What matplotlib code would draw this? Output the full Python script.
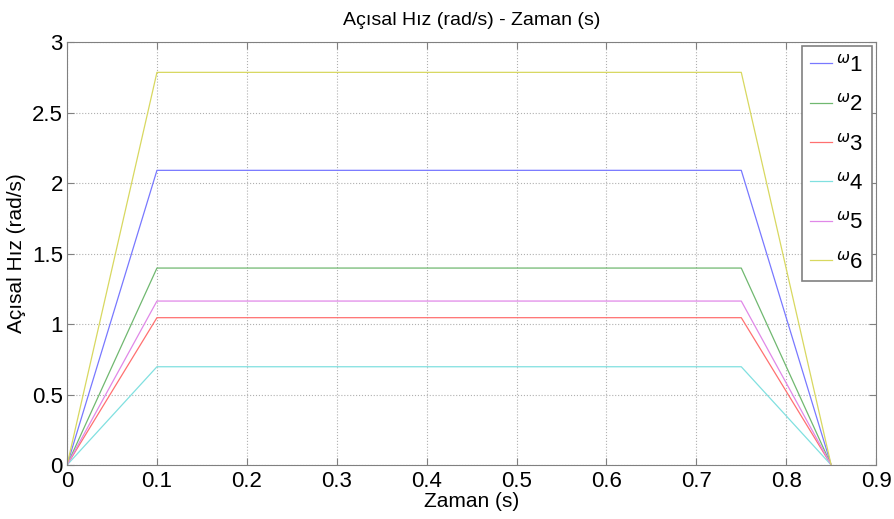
import matplotlib
matplotlib.use("Agg")
import matplotlib.pyplot as plt

plt.rcParams['font.family'] = ['Liberation Sans', 'DejaVu Sans']

# time breakpoints (s)
t = [0, 0.1, 0.75, 0.85]

# peak angular speeds (rad/s) for each joint
peaks = [2.09, 1.397, 1.045, 0.697, 1.163, 2.785]
labels = [r'$^{\omega}$1', r'$^{\omega}$2', r'$^{\omega}$3',
          r'$^{\omega}$4', r'$^{\omega}$5', r'$^{\omega}$6']
colors = ['#7878ff', '#70b870', '#ff7070', '#80e0e0', '#e088e8', '#d8d860']

fig = plt.figure(figsize=(8.94, 5.19), dpi=100)
ax = fig.add_axes([0.075, 0.104, 0.905, 0.815])

for p, lab, c in zip(peaks, labels, colors):
    ax.plot(t, [0, p, p, 0], color=c, lw=0.9, label=lab)

ax.set_xlim(0, 0.9)
ax.set_ylim(0, 3)
ax.set_xticks([0, 0.1, 0.2, 0.3, 0.4, 0.5, 0.6, 0.7, 0.8, 0.9])
ax.set_xticklabels(['0', '0.1', '0.2', '0.3', '0.4', '0.5', '0.6', '0.7', '0.8', '0.9'])
ax.set_yticks([0, 0.5, 1, 1.5, 2, 2.5, 3])
ax.set_yticklabels(['0', '0.5', '1', '1.5', '2', '2.5', '3'])

ax.grid(True, linestyle=':', color='#b0b0b0', lw=0.8)
ax.tick_params(direction='in', top=True, right=True, labelsize=16,
               length=5, color='#808080')
ax.tick_params(axis='x', pad=4)
ax.tick_params(axis='y', pad=3)
for s in ax.spines.values():
    s.set_color('#808080')

ax.set_title('Açısal Hız (rad/s) - Zaman (s)', fontsize=14, pad=12)
ax.set_xlabel('Zaman (s)', fontsize=15, labelpad=0)
ax.set_ylabel('Açısal Hız (rad/s)', fontsize=15, labelpad=4)

leg = ax.legend(loc='upper right', fontsize=16, fancybox=False, framealpha=1,
                edgecolor='#808080', handlelength=1.0, labelspacing=0.78,
                borderaxespad=0.2, handletextpad=0.2, borderpad=0.35)
leg.get_frame().set_linewidth(1.2)

fig.savefig('out.png', dpi=100)
